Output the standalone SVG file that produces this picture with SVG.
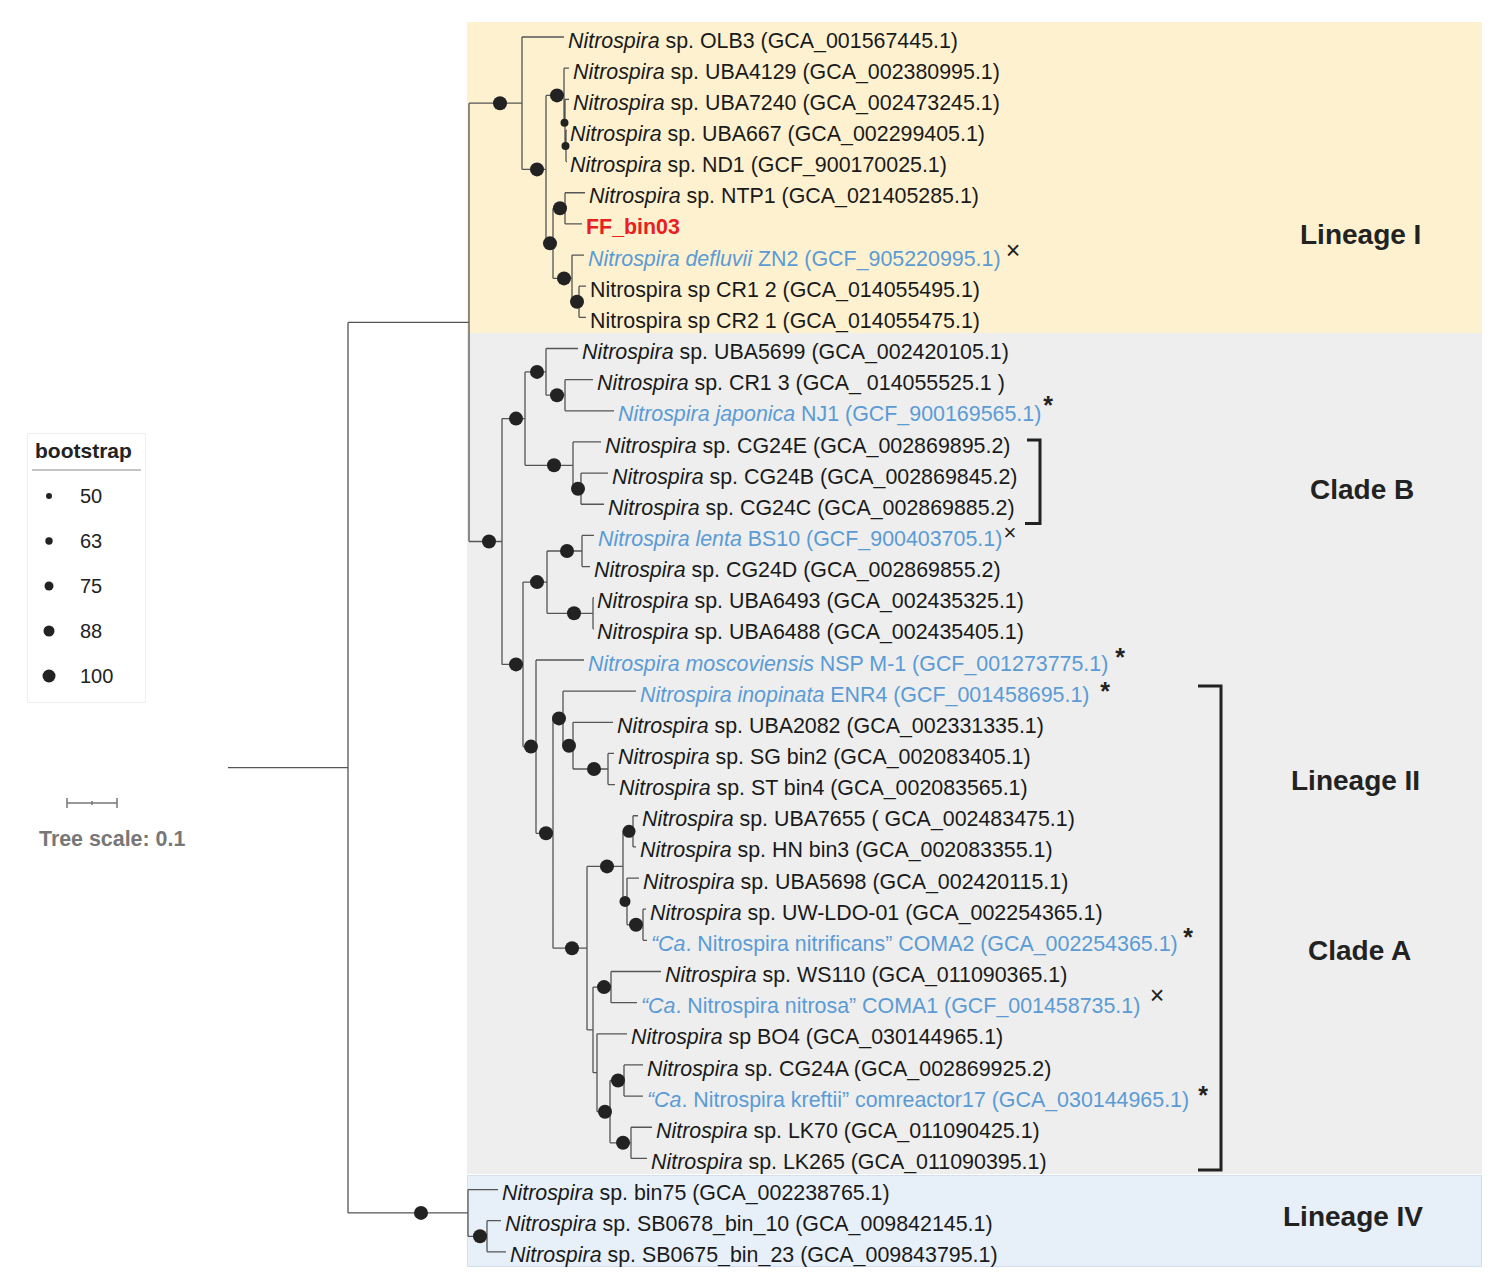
<svg xmlns="http://www.w3.org/2000/svg" width="1495" height="1275" viewBox="0 0 1495 1275">
<style>
.t{font-family:"Liberation Sans",Arial,sans-serif;font-size:21.4px;fill:#1a1a1a}
.b{fill:#5b9bd5}
.i{font-style:italic}
.cl{font-family:"Liberation Sans",Arial,sans-serif;font-size:28px;font-weight:bold;fill:#222}
.mk{font-family:"Liberation Sans",Arial,sans-serif;font-size:25px;font-weight:bold;fill:#222;text-anchor:middle}
.x{font-family:"Liberation Sans",Arial,sans-serif;font-size:25px;fill:#222;text-anchor:middle}
.lg{font-family:"Liberation Sans",Arial,sans-serif;font-size:20px;fill:#222}
.tree{fill:none;stroke:#555;stroke-width:1.3}
.br{fill:none;stroke:#222;stroke-width:3}
.d{fill:#222}
</style>
<rect width="1495" height="1275" fill="#ffffff"/>
<g id="backgrounds">
<rect x="467" y="22" width="1015" height="311" fill="#fef1cf"/>
<rect x="467" y="333" width="1015" height="841" fill="#edeeed"/>
<rect x="467.5" y="1175.5" width="1014" height="91" fill="#e7eff8" stroke="#d3dfee"/>
</g>
<g id="connectors">
<path class="tree" d="M228,767.7H348M348,322.4V1212.9M348,322.4H469M348,1212.9H468
M469,103.2V541.5M469,103.2H522M469,541.5H502
M522,37V169.4M522,37H564M522,169.4H546
M546,95.4V243.35M546,95.4H564M546,243.35H553
M564,68.15V122.7M564,68.15H569M564,122.7H565
M565,99.3V146M565,99.3H569M565,146H566
M566,130.45V161.6M566,130.45H567M566,161.6H567
M553,208.3V278.4M553,208.3H565M553,278.4H572
M565,192.75V223.9M565,192.75H585M565,223.9H582
M572,255.05V301.8M572,255.05H584M572,301.8H579
M579,286.2V317.35M579,286.2H586M579,317.35H586
M502,418.6V664.4M502,418.6H525M502,664.4H523
M525,371.9V465.3M525,371.9H546M525,465.3H573
M546,348.5V395.2M546,348.5H578M546,395.2H565
M565,379.65V410.8M565,379.65H593M565,410.8H614
M573,441.95V488.7M573,441.95H601M573,488.7H581
M581,473.1V504.25M581,473.1H608M581,504.25H604
M523,582.1V746.6M523,582.1H547M523,746.6H536
M547,551V613.3M547,551H582M547,613.3H593
M582,535.4V566.55M582,535.4H594M582,566.55H590
M593,597.7V628.85M593,597.7H594M593,628.85H594
M536,660V833.3M536,660H584M536,833.3H553
M553,718.4V948.2M553,718.4H563M553,948.2H587
M563,691.15V745.7M563,691.15H636M563,745.7H573
M573,722.3V769M573,722.3H613M573,769H608
M608,753.45V784.6M608,753.45H614M608,784.6H615
M587,866.4V1029.9M587,866.4H623M587,1029.9H593
M623,831.3V901.4M623,831.3H633M623,901.4H627
M633,815.75V846.9M633,815.75H638M633,846.9H636
M627,878.05V924.8M627,878.05H639M627,924.8H643
M643,909.2V940.35M643,909.2H646M643,940.35H647
M593,987.1V1072.7M593,987.1H611M593,1072.7H597
M611,971.5V1002.65M611,971.5H661M611,1002.65H637
M597,1033.8V1111.7M597,1033.8H627M597,1111.7H610
M610,1080.5V1142.8M610,1080.5H624M610,1142.8H631
M624,1064.95V1096.1M624,1064.95H643M624,1096.1H643
M631,1127.25V1158.4M631,1127.25H652M631,1158.4H647
M468,1189.55V1236.3M468,1189.55H498M468,1236.3H487
M487,1220.7V1251.85M487,1220.7H501M487,1251.85H506"/>
</g>
<g id="bootstrap-dots" class="d">
<circle cx="500" cy="103.2" r="7"/><circle cx="537" cy="169.4" r="7"/><circle cx="557" cy="95.4" r="7"/>
<circle cx="564.5" cy="122.7" r="4"/><circle cx="565.5" cy="146" r="4"/>
<circle cx="550" cy="243.35" r="7"/><circle cx="560" cy="208.3" r="7"/><circle cx="564" cy="278.4" r="7"/><circle cx="577" cy="301.8" r="7"/>
<circle cx="489" cy="541.5" r="7"/><circle cx="516" cy="418.6" r="7"/><circle cx="537" cy="371.9" r="7"/><circle cx="557" cy="395.2" r="7"/>
<circle cx="554" cy="465.3" r="7"/><circle cx="578" cy="488.7" r="7"/><circle cx="516" cy="664.4" r="7"/><circle cx="537" cy="582.1" r="7"/>
<circle cx="567" cy="551" r="7"/><circle cx="574" cy="613.3" r="7"/><circle cx="531" cy="746.6" r="7"/><circle cx="546" cy="833.3" r="7"/>
<circle cx="559" cy="718.4" r="7"/><circle cx="569" cy="745.7" r="7"/><circle cx="594" cy="769" r="7"/><circle cx="572" cy="948.2" r="7"/>
<circle cx="607" cy="866.4" r="7"/><circle cx="629" cy="831.3" r="6.5"/><circle cx="625" cy="901.4" r="5.5"/><circle cx="636" cy="924.8" r="7"/>
<circle cx="604" cy="987.1" r="7"/><circle cx="605" cy="1111.7" r="7"/><circle cx="618" cy="1080.5" r="7"/><circle cx="623" cy="1142.8" r="7"/>
<circle cx="421" cy="1212.9" r="7"/><circle cx="480" cy="1236.3" r="7"/>
</g>
<g id="leaf-OLB3"><text class="t" x="568" y="47.5"><tspan class="i">Nitrospira</tspan> sp. OLB3 (GCA_001567445.1)</text></g>
<g id="leaf-UBA4129"><text class="t" x="573" y="78.6"><tspan class="i">Nitrospira</tspan> sp. UBA4129 (GCA_002380995.1)</text></g>
<g id="leaf-UBA7240"><text class="t" x="573" y="109.8"><tspan class="i">Nitrospira</tspan> sp. UBA7240 (GCA_002473245.1)</text></g>
<g id="leaf-UBA667"><text class="t" x="570" y="141"><tspan class="i">Nitrospira</tspan> sp. UBA667 (GCA_002299405.1)</text></g>
<g id="leaf-ND1"><text class="t" x="570" y="172.1"><tspan class="i">Nitrospira</tspan> sp. ND1 (GCF_900170025.1)</text></g>
<g id="leaf-NTP1"><text class="t" x="589" y="203.3"><tspan class="i">Nitrospira</tspan> sp. NTP1 (GCA_021405285.1)</text></g>
<g id="leaf-FF_bin03"><text class="t" x="586" y="234.4" style="fill:#e8201e;font-weight:bold">FF_bin03</text></g>
<g id="leaf-ZN2"><text class="t b" x="588" y="265.6"><tspan class="i">Nitrospira defluvii</tspan> ZN2 (GCF_905220995.1)</text><text class="x" x="1013" y="259">×</text></g>
<g id="leaf-CR1-2"><text class="t" x="590" y="296.7">Nitrospira sp CR1 2 (GCA_014055495.1)</text></g>
<g id="leaf-CR2-1"><text class="t" x="590" y="327.9">Nitrospira sp CR2 1 (GCA_014055475.1)</text></g>
<g id="leaf-UBA5699"><text class="t" x="582" y="359"><tspan class="i">Nitrospira</tspan> sp. UBA5699 (GCA_002420105.1)</text></g>
<g id="leaf-CR1-3"><text class="t" x="597" y="390.2"><tspan class="i">Nitrospira</tspan> sp. CR1 3 (GCA_ 014055525.1 )</text></g>
<g id="leaf-NJ1"><text class="t b" x="618" y="421.3"><tspan class="i">Nitrospira japonica</tspan> NJ1 (GCF_900169565.1)</text><text class="mk" x="1048" y="414">*</text></g>
<g id="leaf-CG24E"><text class="t" x="605" y="452.5"><tspan class="i">Nitrospira</tspan> sp. CG24E (GCA_002869895.2)</text></g>
<g id="leaf-CG24B"><text class="t" x="612" y="483.6"><tspan class="i">Nitrospira</tspan> sp. CG24B (GCA_002869845.2)</text></g>
<g id="leaf-CG24C"><text class="t" x="608" y="514.8"><tspan class="i">Nitrospira</tspan> sp. CG24C (GCA_002869885.2)</text></g>
<g id="leaf-BS10"><text class="t b" x="598" y="545.9"><tspan class="i">Nitrospira lenta</tspan> BS10 (GCF_900403705.1)</text><text class="x" x="1010" y="540" style="font-size:22px">×</text></g>
<g id="leaf-CG24D"><text class="t" x="594" y="577.1"><tspan class="i">Nitrospira</tspan> sp. CG24D (GCA_002869855.2)</text></g>
<g id="leaf-UBA6493"><text class="t" x="597" y="608.2"><tspan class="i">Nitrospira</tspan> sp. UBA6493 (GCA_002435325.1)</text></g>
<g id="leaf-UBA6488"><text class="t" x="597" y="639.4"><tspan class="i">Nitrospira</tspan> sp. UBA6488 (GCA_002435405.1)</text></g>
<g id="leaf-NSPM1"><text class="t b" x="588" y="670.5"><tspan class="i">Nitrospira moscoviensis</tspan> NSP M-1 (GCF_001273775.1)</text><text class="mk" x="1120" y="666">*</text></g>
<g id="leaf-ENR4"><text class="t b" x="640" y="701.7"><tspan class="i">Nitrospira inopinata</tspan> ENR4 (GCF_001458695.1)</text><text class="mk" x="1105" y="700">*</text></g>
<g id="leaf-UBA2082"><text class="t" x="617" y="732.8"><tspan class="i">Nitrospira</tspan> sp. UBA2082 (GCA_002331335.1)</text></g>
<g id="leaf-SGbin2"><text class="t" x="618" y="764"><tspan class="i">Nitrospira</tspan> sp. SG bin2 (GCA_002083405.1)</text></g>
<g id="leaf-STbin4"><text class="t" x="619" y="795.1"><tspan class="i">Nitrospira</tspan> sp. ST bin4 (GCA_002083565.1)</text></g>
<g id="leaf-UBA7655"><text class="t" x="642" y="826.3"><tspan class="i">Nitrospira</tspan> sp. UBA7655 ( GCA_002483475.1)</text></g>
<g id="leaf-HNbin3"><text class="t" x="640" y="857.4"><tspan class="i">Nitrospira</tspan> sp. HN bin3 (GCA_002083355.1)</text></g>
<g id="leaf-UBA5698"><text class="t" x="643" y="888.6"><tspan class="i">Nitrospira</tspan> sp. UBA5698 (GCA_002420115.1)</text></g>
<g id="leaf-UWLDO01"><text class="t" x="650" y="919.7"><tspan class="i">Nitrospira</tspan> sp. UW-LDO-01 (GCA_002254365.1)</text></g>
<g id="leaf-COMA2"><text class="t b" x="651" y="950.9"><tspan class="i">“Ca</tspan>. Nitrospira nitrificans” COMA2 (GCA_002254365.1)</text><text class="mk" x="1188" y="946">*</text></g>
<g id="leaf-WS110"><text class="t" x="665" y="982"><tspan class="i">Nitrospira</tspan> sp. WS110 (GCA_011090365.1)</text></g>
<g id="leaf-COMA1"><text class="t b" x="641" y="1013.2"><tspan class="i">“Ca</tspan>. Nitrospira nitrosa” COMA1 (GCF_001458735.1)</text><text class="x" x="1157" y="1004">×</text></g>
<g id="leaf-BO4"><text class="t" x="631" y="1044.3"><tspan class="i">Nitrospira</tspan> sp BO4 (GCA_030144965.1)</text></g>
<g id="leaf-CG24A"><text class="t" x="647" y="1075.5"><tspan class="i">Nitrospira</tspan> sp. CG24A (GCA_002869925.2)</text></g>
<g id="leaf-comreactor17"><text class="t b" x="647" y="1106.6"><tspan class="i">“Ca</tspan>. Nitrospira kreftii” comreactor17 (GCA_030144965.1)</text><text class="mk" x="1203" y="1104">*</text></g>
<g id="leaf-LK70"><text class="t" x="656" y="1137.8"><tspan class="i">Nitrospira</tspan> sp. LK70 (GCA_011090425.1)</text></g>
<g id="leaf-LK265"><text class="t" x="651" y="1168.9"><tspan class="i">Nitrospira</tspan> sp. LK265 (GCA_011090395.1)</text></g>
<g id="leaf-bin75"><text class="t" x="502" y="1200.1"><tspan class="i">Nitrospira</tspan> sp. bin75 (GCA_002238765.1)</text></g>
<g id="leaf-SB0678"><text class="t" x="505" y="1231.2"><tspan class="i">Nitrospira</tspan> sp. SB0678_bin_10 (GCA_009842145.1)</text></g>
<g id="leaf-SB0675"><text class="t" x="510" y="1262.4"><tspan class="i">Nitrospira</tspan> sp. SB0675_bin_23 (GCA_009843795.1)</text></g>
<g id="brackets">
<path class="br" d="M1027,440H1040V523.5H1025"/>
<path class="br" d="M1198,686H1221V1170H1198"/>
</g>
<g id="clade-labels">
<text class="cl" x="1300" y="244">Lineage I</text>
<text class="cl" x="1310" y="499">Clade B</text>
<text class="cl" x="1291" y="790">Lineage II</text>
<text class="cl" x="1308" y="960">Clade A</text>
<text class="cl" x="1283" y="1226">Lineage IV</text>
</g>
<g id="legend">
<rect x="27.5" y="433.5" width="118" height="269" fill="#ffffff" stroke="#eeeeee"/>
<text class="lg" x="35" y="458" style="font-weight:bold;font-size:21px">bootstrap</text>
<path d="M32,470H141" stroke="#888" stroke-width="1"/>
<circle class="d" cx="49" cy="496" r="3"/><text class="lg" x="80" y="503">50</text>
<circle class="d" cx="49" cy="541" r="3.7"/><text class="lg" x="80" y="548">63</text>
<circle class="d" cx="49" cy="586" r="4.5"/><text class="lg" x="80" y="593">75</text>
<circle class="d" cx="49" cy="631" r="5.5"/><text class="lg" x="80" y="638">88</text>
<circle class="d" cx="49" cy="676" r="6.5"/><text class="lg" x="80" y="683">100</text>
</g>
<g id="tree-scale">
<path d="M67,803H117M67,798V808M117,798V808M92,801V805" stroke="#777" stroke-width="1.5" fill="none"/>
<text x="39" y="846" style="font-family:'Liberation Sans',Arial,sans-serif;font-size:21.4px;font-weight:bold;fill:#777">Tree scale: 0.1</text>
</g>
</svg>
